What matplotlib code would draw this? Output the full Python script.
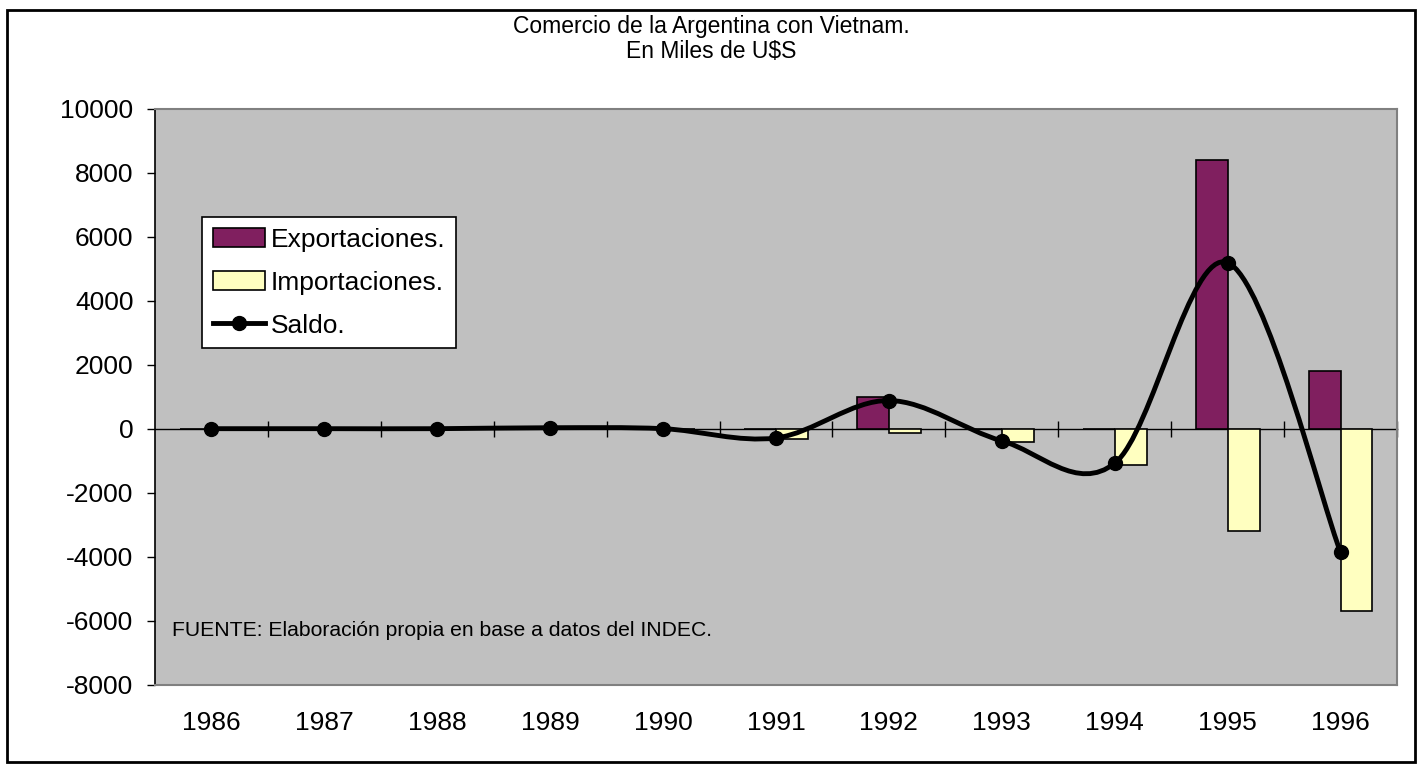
import matplotlib
matplotlib.use("Agg")
import matplotlib.pyplot as plt
import numpy as np
from matplotlib.path import Path
from matplotlib.patches import PathPatch, Rectangle
from matplotlib.lines import Line2D

plt.rcParams['font.family'] = ['Liberation Sans', 'DejaVu Sans']
plt.rcParams['axes.unicode_minus'] = False

# -------------------------------
# Data (miles de U$S)
# -------------------------------
years = ['1986', '1987', '1988', '1989', '1990', '1991',
         '1992', '1993', '1994', '1995', '1996']
exportaciones = [0, 0, 0, 40, 10, 0, 1000, 0, 0, 8400, 1800]
importaciones = [0, 0, 0, 0, 0, 300, 110, 420, 1120, 3200, 5700]
saldo = [10, 10, 10, 40, 10, -280, 890, -370, -1070, 5200, -3850]

y_ticks = list(range(-8000, 10001, 2000))

# colours
c_exp = '#801F5F'
c_imp = '#FFFFC0'
c_bg = '#C0C0C0'

fig = plt.figure(figsize=(14.22, 7.68), dpi=100)
ax = fig.add_axes([155 / 1422, 1 - 685 / 768, 1242 / 1422, 576 / 768])
ax.set_facecolor(c_bg)

x = np.arange(len(years))
w = 0.283

# bars: exports left of centre, imports (negative) right of centre
ax.bar(x - w / 2, exportaciones, w, color=c_exp, edgecolor='black', linewidth=1.2, zorder=2)
ax.bar(x + w / 2, [-v for v in importaciones], w, color=c_imp, edgecolor='black',
       linewidth=1.2, zorder=2)

# smoothed balance line (Excel-style bezier through the points)
pts = np.column_stack([x, saldo]).astype(float)
verts = [pts[0]]
codes = [Path.MOVETO]
for i in range(len(pts) - 1):
    p_prev = pts[i - 1] if i > 0 else pts[i]
    p_next = pts[i + 2] if i + 2 < len(pts) else pts[i + 1]
    c1 = pts[i] + (pts[i + 1] - p_prev) / 6
    c2 = pts[i + 1] - (p_next - pts[i]) / 6
    verts += [c1, c2, pts[i + 1]]
    codes += [Path.CURVE4] * 3
ax.add_patch(PathPatch(Path(verts, codes), facecolor='none', edgecolor='black',
                       linewidth=3.5, zorder=3, capstyle='round', joinstyle='round'))
ax.plot(x, saldo, linestyle='none', marker='o', color='black', markersize=10, zorder=4)

# axes limits and ticks
ax.set_xlim(-0.5, len(years) - 0.5)
ax.set_ylim(y_ticks[0], y_ticks[-1])
ax.set_yticks(y_ticks)
ax.tick_params(axis='y', direction='out', length=5.5, width=1, pad=10, labelsize=19)
ax.set_xticks(x, labels=years)
ax.tick_params(axis='x', length=0, pad=19, labelsize=19)

for s in ['top', 'right', 'bottom']:
    ax.spines[s].set_color('#808080')
    ax.spines[s].set_linewidth(1.5)
ax.spines['left'].set_color('black')
ax.spines['left'].set_linewidth(1.2)

# category axis drawn across the zero line
zero_frac = (0 - y_ticks[0]) / (y_ticks[-1] - y_ticks[0])
sec = ax.secondary_xaxis(zero_frac)
sec.set_xticks(np.arange(0.5, len(years), 1.0))
sec.tick_params(direction='inout', length=11, width=1, labelbottom=False, labeltop=False)
sec.spines['bottom'].set_linewidth(1)
sec.spines['top'].set_linewidth(1)

# legend
handles = [
    Rectangle((0, 0), 1, 1, facecolor=c_exp, edgecolor='black', linewidth=1.2),
    Rectangle((0, 0), 1, 1, facecolor=c_imp, edgecolor='black', linewidth=1.2),
    Line2D([], [], color='black', linewidth=3.5, marker='o', markersize=10),
]
leg = ax.legend(handles, ['Exportaciones.', 'Importaciones.', 'Saldo.'],
                loc='upper left', bbox_to_anchor=((202 - 155) / 1242, (685 - 217) / 576),
                borderaxespad=0, fancybox=False, framealpha=1, fontsize=19,
                handlelength=2.0, handletextpad=0.2, borderpad=0.4, labelspacing=0.72)
leg.get_frame().set_edgecolor('black')
leg.get_frame().set_linewidth(1.2)

ax.text((172 - 155) / 1242, (685 - 631) / 576,
        'FUENTE: Elaboración propia en base a datos del INDEC.',
        transform=ax.transAxes, fontsize=15.2, va='center', ha='left')

# title
fig.text(0.5, 1 - 27 / 768, 'Comercio de la Argentina con Vietnam.',
         ha='center', va='center', fontsize=16.5)
fig.text(0.5, 1 - 52 / 768, r'En Miles de U\$S', ha='center', va='center', fontsize=16.5)

# outer frame of the chart
fig.patches.append(Rectangle((7 / 1422, 1 - 762 / 768), 1408 / 1422, 752 / 768,
                             transform=fig.transFigure, fill=False,
                             edgecolor='black', linewidth=2))

fig.savefig('out.png', dpi=100)
